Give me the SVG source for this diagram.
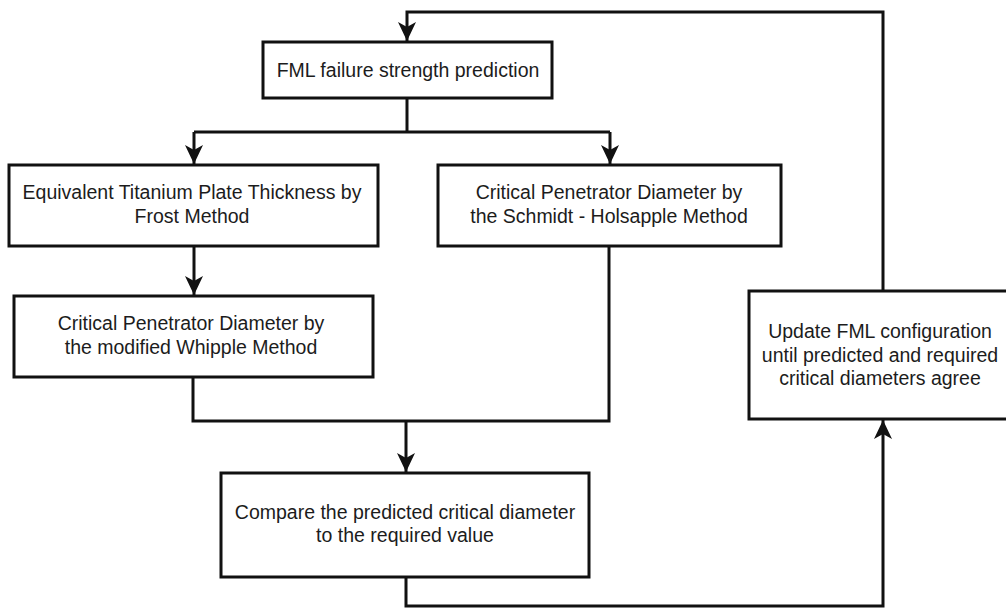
<svg xmlns="http://www.w3.org/2000/svg" width="1006" height="608" viewBox="0 0 1006 608">
  <style>
    .box { fill: #ffffff; stroke: #111111; stroke-width: 3; }
    .lbl { font-family: "Liberation Sans", Arial, sans-serif; font-size: 19.5px; fill: #1c1c1c; text-anchor: middle; }
    .wire { fill: none; stroke: #111111; stroke-width: 3; stroke-linejoin: miter; }
  </style>
  <defs>
    <marker id="arrow" markerUnits="userSpaceOnUse" markerWidth="22" markerHeight="22" viewBox="-21 -11 22 22" refX="0" refY="0" orient="auto">
      <path d="M0,0 L-19,-9 L-14,0 L-19,9 Z" fill="#111111"/>
    </marker>
  </defs>
  <rect width="1006" height="608" fill="#ffffff"/>

  <g id="connectors">
    <!-- feedback loop back to the top -->
    <path class="wire" d="M883,290 V12 H407 V41" marker-end="url(#arrow)"/>
    <!-- split into the two methods -->
    <path class="wire" d="M407,98 V132"/>
    <path class="wire" d="M194,132 H610"/>
    <path class="wire" d="M194,132 V164" marker-end="url(#arrow)"/>
    <path class="wire" d="M610,132 V164" marker-end="url(#arrow)"/>
    <!-- Frost to Whipple -->
    <path class="wire" d="M194,246 V295" marker-end="url(#arrow)"/>
    <!-- merge of both branches -->
    <path class="wire" d="M193,377 V421 H609 V246"/>
    <path class="wire" d="M406,421 V472" marker-end="url(#arrow)"/>
    <!-- compare to update -->
    <path class="wire" d="M406,577 V606 H883 V420" marker-end="url(#arrow)"/>
  </g>

  <g id="fml-prediction">
    <rect class="box" x="263" y="42" width="289" height="56"/>
    <text class="lbl" x="408" y="77">FML failure strength prediction</text>
  </g>

  <g id="frost-method">
    <rect class="box" x="9" y="165" width="369" height="81"/>
    <text class="lbl" x="192" y="199">Equivalent Titanium Plate Thickness by</text>
    <text class="lbl" x="192" y="223">Frost Method</text>
  </g>

  <g id="schmidt-holsapple">
    <rect class="box" x="438" y="165" width="343" height="81"/>
    <text class="lbl" x="609" y="199">Critical Penetrator Diameter by</text>
    <text class="lbl" x="609" y="223">the Schmidt - Holsapple Method</text>
  </g>

  <g id="whipple-method">
    <rect class="box" x="14" y="296" width="359" height="81"/>
    <text class="lbl" x="191" y="330">Critical Penetrator Diameter by</text>
    <text class="lbl" x="191" y="354">the modified Whipple Method</text>
  </g>

  <g id="compare">
    <rect class="box" x="221" y="473" width="368" height="104"/>
    <text class="lbl" x="405" y="519">Compare the predicted critical diameter</text>
    <text class="lbl" x="405" y="542">to the required value</text>
  </g>

  <g id="update-config">
    <rect class="box" x="749" y="291" width="263" height="128"/>
    <text class="lbl" x="880" y="338">Update FML configuration</text>
    <text class="lbl" x="880" y="362">until predicted and required</text>
    <text class="lbl" x="880" y="385">critical diameters agree</text>
  </g>
</svg>
